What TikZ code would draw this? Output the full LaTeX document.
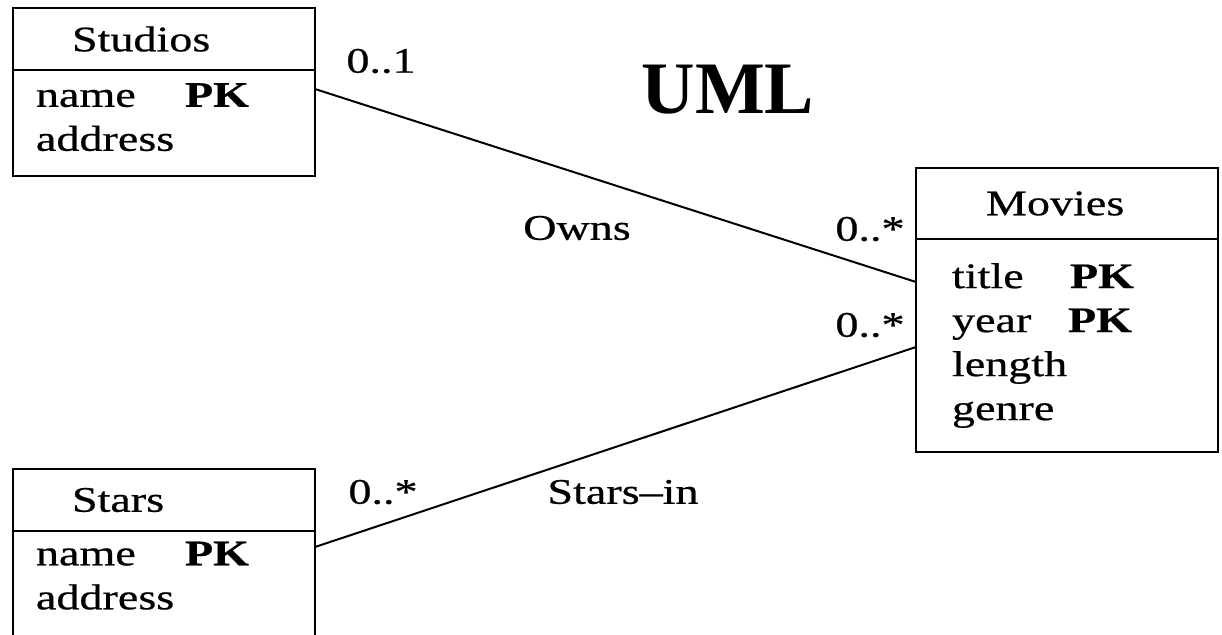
\documentclass[tikz,border=0pt]{standalone}
\usepackage{fontspec}
\setmainfont{Liberation Serif}[FakeStretch=1.28, FakeBold=0.6]
\newfontfamily\titlefont{Liberation Serif}
\usetikzlibrary{positioning}
\newcommand{\classfont}{\fontsize{18}{22}\selectfont}
\newcommand{\pkfield}[2]{\makebox[#1][l]{#2}\textbf{PK}}
\tikzset{
  headbox/.style={draw, line width=1.3pt, outer sep=0pt, anchor=north west,
    align=left, inner ysep=0pt, font=\classfont},
  bodybox/.style={headbox},
  assoc/.style={line width=1pt},
  mult/.style={font=\classfont, inner sep=0pt},
  rolename/.style={font=\classfont, inner sep=0pt},
  titletext/.style={font=\titlefont\bfseries\fontsize{37}{40}\selectfont, inner sep=0pt},
}

\begin{document}
\begin{tikzpicture}[x=0.5pt, y=-0.5pt]
  \clip (0,0) rectangle (1222,634);
  \fill[white] (0,0) rectangle (1222,634);

  % classes
  \node[headbox, inner xsep=29.5pt, text width=92pt, minimum height=31pt] (shead) at (13,8) {Studios};
  \node[bodybox, inner xsep=11.5pt, text width=128pt, minimum height=53pt, text depth=28pt,
        below=0pt of shead] (sbody) {\pkfield{74.5pt}{name}\\address};

  \node[headbox, inner xsep=35pt, text width=81pt, minimum height=35.5pt] (mhead) at (916,168) {Movies};
  \node[bodybox, inner xsep=18pt, text width=115pt, minimum height=106.5pt,
        below=0pt of mhead] (mbody) {\pkfield{59pt}{title}\\\pkfield{58pt}{year}\\length\\genre};

  \node[headbox, inner xsep=29.5pt, text width=92pt, minimum height=31pt] (thead) at (13,469) {Stars};
  \node[bodybox, inner xsep=11.5pt, text width=128pt, minimum height=54.5pt, text depth=32pt,
        below=0pt of thead] (tbody) {\pkfield{74.5pt}{name}\\address};

  % associations
  \draw[assoc] ([yshift=-9.5pt]sbody.north east) -- ([yshift=-21.5pt]mbody.north west);
  \draw[assoc] ([yshift=-8pt]tbody.north east) -- ([yshift=-54pt]mbody.north west);

  \node[mult] (smult) at (381,61) {0..1};
  \node[mult] (mmultowns) at (870,229) {0..*};
  \node[mult] (mmultstars) at (870,325) {0..*};
  \node[mult] (tmult) at (383,492) {0..*};
  \node[rolename] (owns) at (577,228) {Owns};
  \node[rolename] (starsin) at (623,492) {Stars--in};

  \node[titletext] (uml) at (728,90) {UML};
\end{tikzpicture}
\end{document}
